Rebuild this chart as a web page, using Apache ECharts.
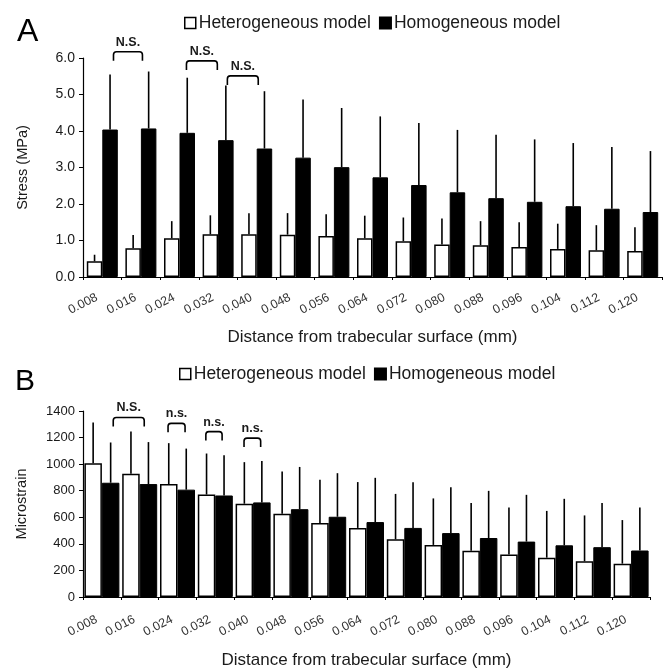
<!DOCTYPE html>
<html>
<head>
<meta charset="utf-8">
<script src="https://cdn.jsdelivr.net/npm/echarts@6/dist/echarts.min.js"></script>
<style>html,body{margin:0;padding:0;background:#fff}#c{width:668px;height:670px}</style>
</head>
<body>
<div id="c"></div>
<script>
// ---- data ----
const categories = ['0.008','0.016','0.024','0.032','0.040','0.048','0.056','0.064','0.072','0.080','0.088','0.096','0.104','0.112','0.120'];
const seriesNames = ['Heterogeneous model','Homogeneous model'];

// Panel A: Stress (MPa)
const stressHetero   = [0.43,0.79,1.06,1.17,1.17,1.16,1.12,1.06,0.98,0.89,0.87,0.82,0.77,0.73,0.71];
const stressHeteroSD = [0.18,0.36,0.47,0.52,0.58,0.59,0.60,0.62,0.65,0.71,0.66,0.68,0.69,0.69,0.65];
const stressHomo     = [4.04,4.07,3.95,3.75,3.52,3.27,3.01,2.73,2.52,2.32,2.16,2.06,1.94,1.87,1.78];
const stressHomoSD   = [1.51,1.56,1.51,1.50,1.57,1.59,1.62,1.67,1.70,1.71,1.74,1.71,1.73,1.69,1.67];

// Panel B: Microstrain
const strainHetero   = [1006,927,850,771,702,626,557,520,434,392,348,320,296,269,251];
const strainHeteroSD = [308,318,308,309,313,318,325,345,342,350,359,353,352,345,328];
const strainHomo     = [860,850,808,764,712,661,604,564,520,481,444,417,389,375,350];
const strainHomoSD   = [303,316,309,303,311,318,328,333,343,345,355,352,350,332,323];

// significance brackets: [fromCategoryPos, toCategoryPos, yLevel, label]
const bracketsA = [[0.29,1.04,6.17,'N.S.'],[2.18,2.98,5.92,'N.S.'],[3.24,4.04,5.51,'N.S.']];
const bracketsB = [[0.30,1.12,1351,'N.S.'],[1.75,2.20,1307,'n.s.'],[2.75,3.18,1245,'n.s.'],[3.76,4.20,1196,'n.s.']];

const yTicksA = [0,1,2,3,4,5,6];
const yTicksB = [0,200,400,600,800,1000,1200,1400];

// ---- chart ----
const FONT = 'Liberation Sans, Arial, sans-serif';
const TXT = '#1a1a1a';
const chart = echarts.init(document.getElementById('c'), null, {renderer:'canvas'});

function errSeries(name, means, sds, xi, yi, side, barW) {
  return {
    type: 'custom', name: name, xAxisIndex: xi, yAxisIndex: yi, z: 1, silent: true,
    data: means.map((m, i) => [i, m, sds[i]]),
    renderItem: function (params, api) {
      const c = api.value(0), m = api.value(1), sd = api.value(2);
      const p0 = api.coord([c, m]);
      const p1 = api.coord([c, m + sd]);
      const x = p0[0] + side * barW / 2;
      return { type: 'line', shape: { x1: x, y1: p0[1], x2: x, y2: p1[1] },
               style: { stroke: '#000', lineWidth: 1.6 } };
    }
  };
}

function bracketSeries(br, xi, yi) {
  return {
    type: 'custom', xAxisIndex: xi, yAxisIndex: yi, clip: false, silent: true, z: 5,
    data: br.map((b) => [0, b[2]]),
    renderItem: function (params, api) {
      const b = br[params.dataIndex];
      const band = api.size([1, 0])[0];
      const base = api.coord([0, b[2]]);
      const x1 = base[0] + b[0] * band, x2 = base[0] + b[1] * band;
      const yt = base[1], yb = yt + 9, r = 3;
      const d = 'M' + x1 + ' ' + yb + ' L' + x1 + ' ' + (yt + r) + ' Q' + x1 + ' ' + yt + ' ' + (x1 + r) + ' ' + yt +
                ' L' + (x2 - r) + ' ' + yt + ' Q' + x2 + ' ' + yt + ' ' + x2 + ' ' + (yt + r) + ' L' + x2 + ' ' + yb;
      return { type: 'group', children: [
        { type: 'path', shape: { pathData: d }, style: { fill: null, stroke: '#000', lineWidth: 1.6 } },
        { type: 'text', x: (x1 + x2) / 2, y: yt - 3,
          style: { text: b[3], font: 'bold 12.5px ' + FONT, fill: TXT, align: 'center', verticalAlign: 'bottom' } }
      ]};
    }
  };
}

const whiteStyle = { color: '#fff', borderColor: '#000', borderWidth: 1.5 };
const blackStyle = { color: '#000', borderColor: '#000', borderWidth: 1 };

function xAxis(gi, gap, margin) {
  return {
    type: 'category', gridIndex: gi, data: categories,
    name: 'Distance from trabecular surface (mm)', nameLocation: 'middle', nameGap: gap, nameMoveOverlap: false,
    nameTextStyle: { fontFamily: FONT, fontSize: 17, color: TXT },
    axisLine: { lineStyle: { color: '#000', width: 1.2 } },
    axisTick: { show: true, alignWithLabel: false, length: 3, lineStyle: { color: '#000' } },
    axisLabel: { rotate: 27, fontFamily: FONT, fontSize: 12.5, color: '#333', margin: margin, interval: 0, padding: [0, 6, 0, 0] },
    splitLine: { show: false }
  };
}
function yAxis(gi, name, ticks, fmt, fs, gap) {
  return {
    type: 'value', gridIndex: gi, min: ticks[0], max: ticks[ticks.length - 1], interval: ticks[1] - ticks[0],
    name: name, nameLocation: 'middle', nameGap: gap, nameRotate: 90, nameMoveOverlap: false,
    nameTextStyle: { fontFamily: FONT, fontSize: 14.5, color: TXT },
    axisLine: { show: true, lineStyle: { color: '#000', width: 1.2 } },
    axisTick: { show: true, inside: false, length: 4, lineStyle: { color: '#000' } },
    axisLabel: { formatter: fmt, fontFamily: FONT, fontSize: fs, color: TXT, margin: 8 },
    splitLine: { show: false }
  };
}

const legendCommon = {
  orient: 'horizontal', itemWidth: 11, itemHeight: 11, itemGap: 8,
  textStyle: { fontFamily: FONT, fontSize: 17.5, color: TXT, padding: [0, 0, 0, -2] },
  data: [
    { name: seriesNames[0], icon: 'rect', itemStyle: whiteStyle },
    { name: seriesNames[1], icon: 'rect', itemStyle: { color: '#000' } }
  ]
};

const option = {
  animation: false,
  backgroundColor: '#fff',
  title: [
    { text: 'A', left: 12, top: 11, textStyle: { fontFamily: FONT, fontSize: 32, fontWeight: 'normal', color: '#000' } },
    { text: 'B', left: 10, top: 362, textStyle: { fontFamily: FONT, fontSize: 30, fontWeight: 'normal', color: '#000' } }
  ],
  legend: [
    Object.assign({}, legendCommon, { left: 179, top: 9 }),
    Object.assign({}, legendCommon, { left: 174, top: 360 })
  ],
  grid: [
    { left: 83, right: 6, top: 58, bottom: 393, containLabel: false },
    { left: 83, right: 18, top: 411, bottom: 70, containLabel: false }
  ],
  xAxis: [xAxis(0, 52, 17), xAxis(1, 55, 19)],
  yAxis: [
    yAxis(0, 'Stress (MPa)', yTicksA, (v) => v.toFixed(1), 14, 53),
    yAxis(1, 'Microstrain', yTicksB, (v) => String(v), 13, 54)
  ],
  series: [
    { type: 'bar', name: seriesNames[0], xAxisIndex: 0, yAxisIndex: 0, data: stressHetero, barWidth: 15.5, barGap: '0%', itemStyle: whiteStyle, z: 2 },
    { type: 'bar', name: seriesNames[1], xAxisIndex: 0, yAxisIndex: 0, data: stressHomo, barWidth: 15.5, barGap: '0%', itemStyle: blackStyle, z: 2 },
    errSeries(seriesNames[0], stressHetero, stressHeteroSD, 0, 0, -1, 15.5),
    errSeries(seriesNames[1], stressHomo, stressHomoSD, 0, 0, 1, 15.5),
    bracketSeries(bracketsA, 0, 0),
    { type: 'bar', name: seriesNames[0], xAxisIndex: 1, yAxisIndex: 1, data: strainHetero, barWidth: 17.5, barGap: '0%', itemStyle: whiteStyle, z: 2 },
    { type: 'bar', name: seriesNames[1], xAxisIndex: 1, yAxisIndex: 1, data: strainHomo, barWidth: 17.5, barGap: '0%', itemStyle: blackStyle, z: 2 },
    errSeries(seriesNames[0], strainHetero, strainHeteroSD, 1, 1, -1, 17.5),
    errSeries(seriesNames[1], strainHomo, strainHomoSD, 1, 1, 1, 17.5),
    bracketSeries(bracketsB, 1, 1)
  ]
};
chart.setOption(option);
</script>
</body>
</html>
